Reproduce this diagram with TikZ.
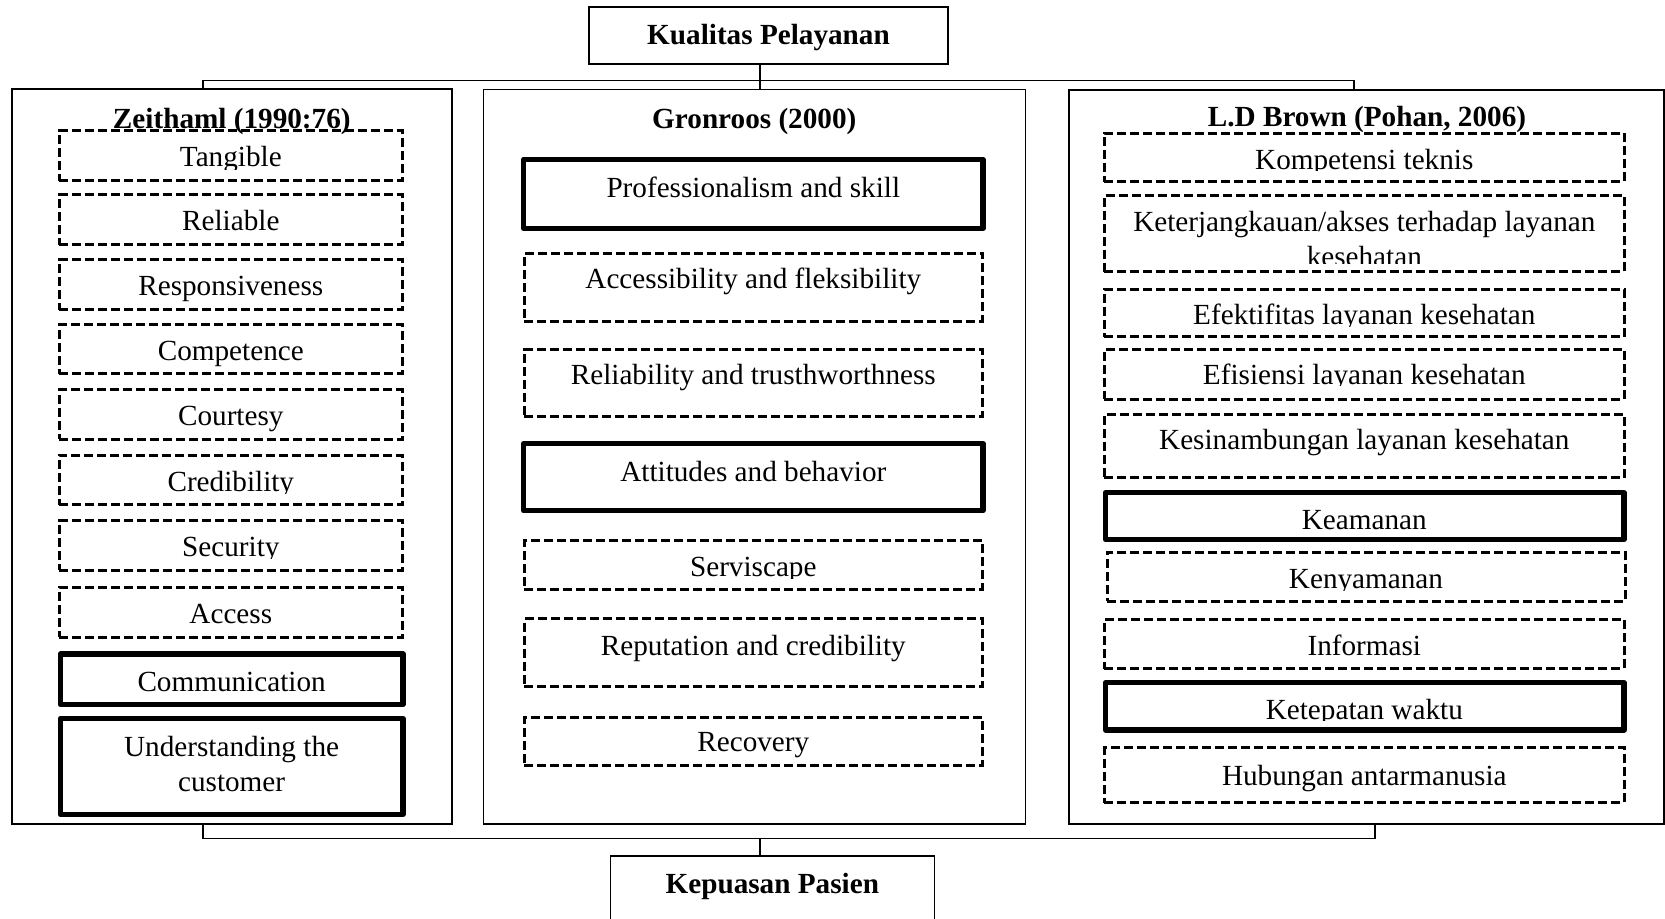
\documentclass[tikz,border=0pt]{standalone}
\usepackage{fontspec}
\setmainfont{Liberation Serif}
\usetikzlibrary{fit}

% plain item label, anchored on its baseline
\newcommand\itemlabel[4]{\node[txt] (#1) at (#2,#3) {#4};}
% item label whose lower part is cut off at a given height
\newcommand\cutlabel[5]{%
  \begin{scope}
    \clip (#2-330,#3-40) rectangle (#2+330,#4);
    \node[txt] (#1) at (#2,#3) {#5};
  \end{scope}}

\begin{document}
\begin{tikzpicture}[x=0.5pt,y=-0.5pt,
  txt/.style={inner sep=0pt, anchor=base, font=\fontsize{14.6pt}{17pt}\selectfont},
  head/.style={txt, font=\fontsize{14.6pt}{17pt}\selectfont\bfseries},
  frame/.style={draw, inner sep=0pt, line width=0.6pt},
  zframe/.style={frame, line width=1.1pt},
  dbox/.style={draw, inner sep=0pt, line width=1.5pt, dash pattern=on 4.5pt off 2pt},
  tbox/.style={draw, inner sep=0pt, line width=2.75pt, line join=round},
  link/.style={line width=0.7pt}]

\useasboundingbox (0,0) rectangle (1665,919);

% ---- top and bottom boxes
\node[frame, fit={(589,7) (948,64)}] (kual) {};
\node[head] (kualT) at (768.5,44.3) {Kualitas Pelayanan};
\node[frame, fit={(610.3,856) (934.3,950)}] (kep) {};
\node[head] (kepT) at (772.3,893.3) {Kepuasan Pasien};

% ---- three panels
\node[zframe, fit={(11.7,89.3) (452,824)}] (zpan) {};
\node[frame, fit={(483.5,89.3) (1025.2,824)}] (gpan) {};
\node[frame, fit={(1069,90) (1664,824)}] (bpan) {};

% ---- connectors
\coordinate (tl) at (203,80.7);
\coordinate (tm) at (760,80.7);
\coordinate (tr) at (1354,80.7);
\draw[link] (tm |- kual.south) -- (tm);
\draw[link] (tl |- zpan.north) -- (tl) -- (tr) -- (tr |- bpan.north);
\draw[link] (tm) -- (tm |- gpan.north);

\coordinate (bl) at (203,838.3);
\coordinate (bm) at (760,838.3);
\coordinate (br) at (1375,838.3);
\draw[link] (bl |- zpan.south) -- (bl) -- (br) -- (br |- bpan.south);
\draw[link] (bm) -- (bm |- kep.north);

% ---- Zeithaml
\node[dbox, fit={(59,130.7) (402.5,180.6)}] (z1) {};
\node[dbox, fit={(59,194.7) (402.5,244.6)}] (z2) {};
\node[dbox, fit={(59,260) (402.5,309.6)}] (z3) {};
\node[dbox, fit={(59,324.7) (402.5,373.6)}] (z4) {};
\node[dbox, fit={(59,390) (402.5,439.3)}] (z5) {};
\node[dbox, fit={(59,455.4) (402.5,504.6)}] (z6) {};
\node[dbox, fit={(59,520.7) (402.5,570.3)}] (z7) {};
\node[dbox, fit={(59,587.4) (402.5,637)}] (z8) {};
\node[tbox, fit={(60.3,654.2) (403,704.5)}] (z9) {};
\node[tbox, fit={(60.3,718.7) (403,814.5)}] (z10) {};

\node[head] (zhead) at (231.8,128.3) {Zeithaml (1990:76)};
\cutlabel{z1t}{230.8}{166.7}{170}{Tangible}
\itemlabel{z2t}{230.8}{231}{Reliable}
\itemlabel{z3t}{230.8}{296}{Responsiveness}
\itemlabel{z4t}{230.8}{360.7}{Competence}
\itemlabel{z5t}{230.8}{426}{Courtesy}
\cutlabel{z6t}{230.8}{491.7}{493}{Credibility}
\cutlabel{z7t}{230.8}{556.7}{558.3}{Security}
\itemlabel{z8t}{230.8}{623.3}{Access}
\itemlabel{z9t}{231.6}{691.7}{Communication}
\itemlabel{z10a}{231.6}{756}{Understanding the}
\itemlabel{z10b}{231.6}{791.7}{customer}

% ---- Gronroos
\node[tbox, fit={(523.7,159.4) (982.9,228.3)}] (g1) {};
\node[dbox, fit={(524.4,253.1) (982.4,321.3)}] (g2) {};
\node[dbox, fit={(524.4,349.7) (982.4,416.9)}] (g3) {};
\node[tbox, fit={(523.7,443.7) (982.9,510.6)}] (g4) {};
\node[dbox, fit={(524.4,540.7) (982.4,589.3)}] (g5) {};
\node[dbox, fit={(524.4,618.7) (982.4,686.9)}] (g6) {};
\node[dbox, fit={(524.4,717.4) (982.4,765.6)}] (g7) {};

\node[head] (ghead) at (754.3,128.3) {Gronroos (2000)};
\itemlabel{g1t}{753.3}{197.3}{Professionalism and skill}
\itemlabel{g2t}{753.3}{288.3}{Accessibility and fleksibility}
\itemlabel{g3t}{753.3}{385}{Reliability and trusthworthness}
\itemlabel{g4t}{753.3}{481.7}{Attitudes and behavior}
\cutlabel{g5t}{753.3}{576.7}{578.3}{Serviscape}
\itemlabel{g6t}{753.3}{655}{Reputation and credibility}
\itemlabel{g7t}{753.3}{751.7}{Recovery}

% ---- L.D Brown
\node[dbox, fit={(1104.4,133.1) (1624.1,181.6)}] (b1) {};
\node[dbox, fit={(1104.4,195.4) (1624.1,271.6)}] (b2) {};
\node[dbox, fit={(1104.4,289.1) (1624.1,336.9)}] (b3) {};
\node[dbox, fit={(1104.4,349.4) (1624.1,399.3)}] (b4) {};
\node[dbox, fit={(1104.4,414.1) (1624.1,477.9)}] (b5) {};
\node[tbox, fit={(1105.7,492.7) (1623.8,539.6)}] (b6) {};
\node[dbox, fit={(1107,552.1) (1625,601.3)}] (b7) {};
\node[dbox, fit={(1104.4,619.7) (1624.1,668.6)}] (b8) {};
\node[tbox, fit={(1105.7,682.7) (1623.8,730)}] (b9) {};
\node[dbox, fit={(1104.4,747.9) (1624.1,802.6)}] (b10) {};

\node[head] (bhead) at (1367,126.7) {L.D Brown (Pohan, 2006)};
\cutlabel{b1t}{1364.3}{169.3}{170.5}{Kompetensi teknis}
\itemlabel{b2a}{1364.3}{231.7}{Keterjangkauan/akses terhadap layanan}
\cutlabel{b2b}{1364.3}{267}{264}{kesehatan}
\cutlabel{b3t}{1364.3}{325}{326.7}{Efektifitas layanan kesehatan}
\cutlabel{b4t}{1364.3}{385}{385.7}{Efisiensi layanan kesehatan}
\itemlabel{b5t}{1364.3}{449.3}{Kesinambungan layanan kesehatan}
\itemlabel{b6t}{1364.3}{530}{Keamanan}
\cutlabel{b7t}{1366}{588.3}{590.7}{Kenyamanan}
\itemlabel{b8t}{1364.3}{655}{Informasi}
\cutlabel{b9t}{1364.3}{719}{720.3}{Ketepatan waktu}
\itemlabel{b10t}{1364.3}{785}{Hubungan antarmanusia}

\end{tikzpicture}
\end{document}
